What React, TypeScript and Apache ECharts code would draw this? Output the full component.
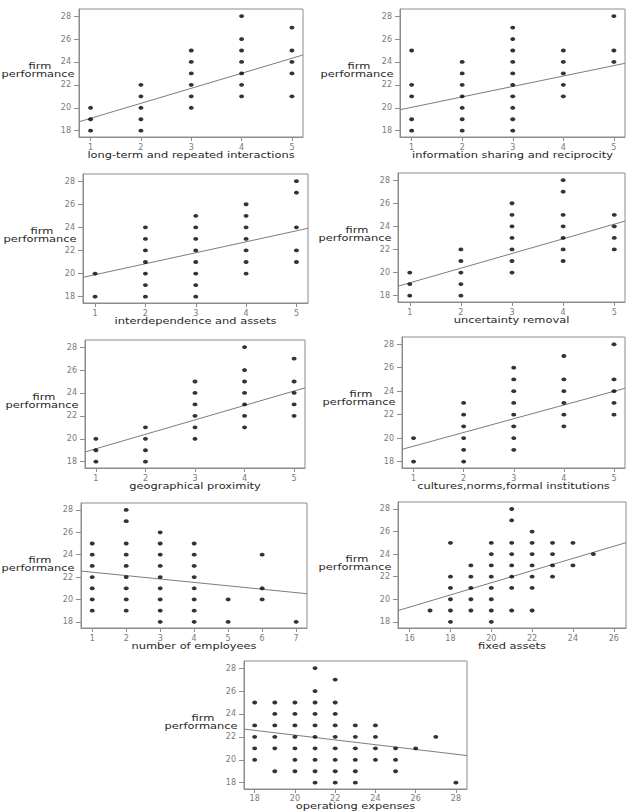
import { useEffect, useRef } from "react";
import * as echarts from "echarts";

// Tick labels
const perfTicks = [18, 20, 22, 24, 26, 28];
const likertTicks = [1, 2, 3, 4, 5];
const employeeTicks = [1, 2, 3, 4, 5, 6, 7];
const fixedAssetTicks = [16, 18, 20, 22, 24, 26];
const opExpenseTicks = [18, 20, 22, 24, 26, 28];

// x positions where observations occur
const likertX = [1, 2, 3, 4, 5];
const employeeX = [1, 2, 3, 4, 5, 6, 7];
const fixedAssetX = [17, 18, 19, 20, 21, 22, 23, 24, 25];
const opExpenseX = [18, 19, 20, 21, 22, 23, 24, 25, 26, 27, 28];

// firm performance values observed at each x position
const interactionsY = [[18, 19, 20], [18, 19, 20, 21, 22], [20, 21, 22, 23, 24, 25], [21, 22, 23, 24, 25, 26, 28], [21, 23, 24, 25, 27]];
const sharingY = [[18, 19, 21, 22, 25], [18, 19, 20, 21, 22, 23, 24], [18, 19, 20, 21, 22, 23, 24, 25, 26, 27], [21, 22, 23, 24, 25], [24, 25, 28]];
const interdependenceY = [[18, 20], [18, 19, 20, 21, 22, 23, 24], [18, 19, 20, 21, 22, 23, 24, 25], [20, 21, 22, 23, 24, 25, 26], [21, 22, 24, 27, 28]];
const uncertaintyY = [[18, 19, 20], [18, 19, 20, 21, 22], [20, 21, 22, 23, 24, 25, 26], [21, 22, 23, 24, 25, 27, 28], [22, 23, 24, 25]];
const proximityY = [[18, 19, 20], [18, 19, 20, 21], [20, 21, 22, 23, 24, 25], [21, 22, 23, 24, 25, 26, 28], [22, 23, 24, 25, 27]];
const culturesY = [[18, 20], [18, 19, 20, 21, 22, 23], [19, 20, 21, 22, 23, 24, 25, 26], [21, 22, 23, 24, 25, 27], [22, 23, 24, 25, 28]];
const employeesY = [[19, 20, 21, 22, 23, 24, 25], [19, 20, 21, 22, 23, 24, 25, 27, 28], [18, 19, 20, 21, 22, 23, 24, 25, 26], [18, 19, 20, 21, 22, 23, 24, 25], [18, 20], [20, 21, 24], [18]];
const fixedAssetsY = [[19], [18, 19, 20, 21, 22, 25], [19, 20, 21, 22, 23], [18, 19, 20, 21, 22, 23, 24, 25], [19, 21, 22, 23, 24, 25, 27, 28], [19, 21, 22, 23, 24, 25, 26], [22, 23, 24, 25], [23, 25], [24]];
const opExpensesY = [[20, 21, 22, 23, 25], [19, 21, 22, 23, 24, 25], [19, 20, 21, 22, 23, 24, 25], [18, 19, 20, 21, 22, 23, 24, 25, 26, 28], [18, 19, 20, 21, 22, 23, 24, 25, 27], [18, 19, 20, 21, 22, 23], [20, 21, 22, 23], [19, 20, 21], [21], [22], [18]];

// fitted regression lines: [intercept, slope]
const interactionsFit = [17.77, 1.31];
const sharingFit = [19.13, 0.91];
const interdependenceFit = [18.95, 0.95];
const uncertaintyFit = [17.84, 1.27];
const proximityFit = [17.87, 1.26];
const culturesFit = [18.14, 1.17];
const employeesFit = [22.74, -0.304];
const fixedAssetsFit = [10.68, 0.539];
const opExpensesFit = [26.32, -0.2085];

const Y_RANGE = [17.45, 28.62];

type Panel = {
  title: string;
  xs: number[];
  ys: number[][];
  fit: number[];
  ticks: number[];
  range: number[];
  box: number[]; // left, top, right, bottom
  titleGap: number;
  labelGap: number;
};

const panels: Panel[] = [
  { title: "long-term and repeated interactions", xs: likertX, ys: interactionsY, fit: interactionsFit, ticks: likertTicks, range: [0.77, 5.22], box: [79, 9, 303, 137], titleGap: 18, labelGap: 6 },
  { title: "information sharing and reciprocity", xs: likertX, ys: sharingY, fit: sharingFit, ticks: likertTicks, range: [0.77, 5.22], box: [400, 9, 625, 137], titleGap: 18, labelGap: 6 },
  { title: "interdependence and assets", xs: likertX, ys: interdependenceY, fit: interdependenceFit, ticks: likertTicks, range: [0.76, 5.23], box: [83, 174, 308, 303], titleGap: 18, labelGap: 6 },
  { title: "uncertainty removal", xs: likertX, ys: uncertaintyY, fit: uncertaintyFit, ticks: likertTicks, range: [0.77, 5.21], box: [398, 173, 625, 302], titleGap: 18, labelGap: 6 },
  { title: "geographical proximity", xs: likertX, ys: proximityY, fit: proximityFit, ticks: likertTicks, range: [0.78, 5.22], box: [85, 340, 305, 468], titleGap: 18, labelGap: 6 },
  { title: "cultures,norms,formal institutions", xs: likertX, ys: culturesY, fit: culturesFit, ticks: likertTicks, range: [0.77, 5.22], box: [402, 337, 625, 468], titleGap: 18, labelGap: 6 },
  { title: "number of employees", xs: employeeX, ys: employeesY, fit: employeesFit, ticks: employeeTicks, range: [0.67, 7.32], box: [81, 503, 307, 628], titleGap: 18, labelGap: 6 },
  { title: "fixed assets", xs: fixedAssetX, ys: fixedAssetsY, fit: fixedAssetsFit, ticks: fixedAssetTicks, range: [15.43, 26.6], box: [398, 502, 626, 628], titleGap: 18, labelGap: 6 },
  { title: "operationg expenses", xs: opExpenseX, ys: opExpensesY, fit: opExpensesFit, ticks: opExpenseTicks, range: [17.47, 28.55], box: [244, 661, 467, 789], titleGap: 17, labelGap: 5 },
];

const FRAME = "#8c8c8c";
const FONT = "DejaVu Sans";

function label(text: string, x: number, y: number) {
  return {
    type: "text",
    x,
    y,
    scaleX: 1.27,
    silent: true,
    style: {
      text,
      font: `9px "${FONT}"`,
      fill: "#262626",
      align: "center",
      verticalAlign: "middle",
      textAlign: "center",
      textVerticalAlign: "middle",
    },
  };
}

export default function App() {
  const ref = useRef<HTMLDivElement>(null);

  useEffect(() => {
    if (!ref.current) return;
    const chart = echarts.init(ref.current, undefined, { renderer: "svg" });

    const grid = panels.map((p) => ({
      left: p.box[0],
      top: p.box[1],
      width: p.box[2] - p.box[0],
      height: p.box[3] - p.box[1],
      show: true,
      borderColor: FRAME,
      borderWidth: 1,
      backgroundColor: "transparent",
    }));

    const xAxis = panels.map((p, i) => ({
      type: "value",
      gridIndex: i,
      min: p.range[0],
      max: p.range[1],
      splitLine: { show: false },
      axisLine: { show: true, lineStyle: { color: FRAME, width: 1 } },
      axisTick: { show: true, customValues: p.ticks, length: 4, lineStyle: { color: FRAME } },
      axisLabel: { customValues: p.ticks, fontSize: 8, fontFamily: FONT, color: "#7a7a7a", margin: p.labelGap },
    }));

    const yAxis = panels.map((p, i) => ({
      type: "value",
      gridIndex: i,
      min: Y_RANGE[0],
      max: Y_RANGE[1],
      splitLine: { show: false },
      axisLine: { show: true, lineStyle: { color: FRAME, width: 1 } },
      axisTick: { show: true, customValues: perfTicks, length: 5, lineStyle: { color: FRAME } },
      axisLabel: { customValues: perfTicks, fontSize: 8, fontFamily: FONT, color: "#7a7a7a", margin: 8 },
    }));

    const series: any[] = [];
    panels.forEach((p, i) => {
      const [a, b] = p.fit;
      series.push({
        type: "line",
        xAxisIndex: i,
        yAxisIndex: i,
        data: [
          [p.range[0], a + b * p.range[0]],
          [p.range[1], a + b * p.range[1]],
        ],
        symbol: "none",
        silent: true,
        clip: true,
        lineStyle: { color: "#7d7d7d", width: 1 },
        z: 2,
      });
      const pts: number[][] = [];
      p.xs.forEach((x, k) => p.ys[k].forEach((y) => pts.push([x, y])));
      series.push({
        type: "scatter",
        xAxisIndex: i,
        yAxisIndex: i,
        data: pts,
        symbol: "circle",
        symbolSize: [5, 3.8],
        itemStyle: { color: "#000" },
        silent: true,
        z: 3,
      });
    });

    const graphic: any[] = [];
    panels.forEach((p) => {
      const [l, t, r, btm] = p.box;
      const nameX = Math.max(l - 43, 38);
      graphic.push(label(p.title, (l + r) / 2, btm + p.titleGap));
      graphic.push(label("firm", nameX + 2, t + 57));
      graphic.push(label("performance", nameX, t + 65));
    });

    chart.setOption({
      animation: false,
      backgroundColor: "#fff",
      grid,
      xAxis,
      yAxis,
      series,
      graphic,
    });

    return () => chart.dispose();
  }, []);

  return (
    <div
      ref={ref}
      style={{ position: "fixed", left: 0, top: 0, width: 631, height: 811, background: "#fff" }}
    />
  );
}
